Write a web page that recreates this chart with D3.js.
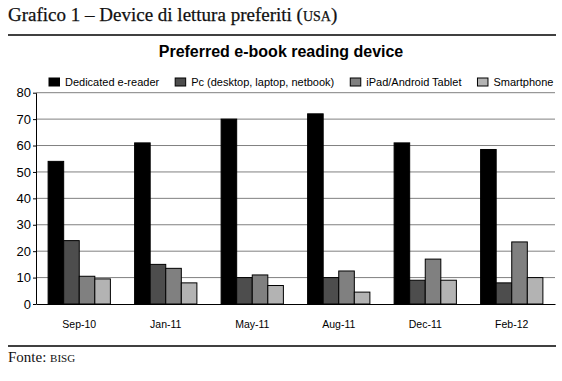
<!DOCTYPE html>
<html lang="it">
<head>
  <meta charset="UTF-8">
  <title>Grafico 1 - Device di lettura preferiti</title>
  <script src="https://d3js.org/d3.v7.min.js"></script>
  <style>
    body { margin: 0; padding: 0; background: #fff; }
    svg { display: block; }
    .sans { font-family: "Liberation Sans", Arial, sans-serif; }
    .serif { font-family: "Liberation Serif", "Times New Roman", serif; }
  </style>
</head>
<body>
  <div id="chart"></div>

  <script>
    // Data
    const categories = ["Sep-10", "Jan-11", "May-11", "Aug-11", "Dec-11", "Feb-12"];
    const seriesNames = ["Dedicated e-reader", "Pc (desktop, laptop, netbook)", "iPad/Android Tablet", "Smartphone"];
    const dedicated = [54, 61, 70, 72, 61, 58.5];
    const pc = [24, 15, 10, 10, 9, 8];
    const tablet = [10.5, 13.5, 11, 12.5, 17, 23.5];
    const smartphone = [9.5, 8, 7, 4.5, 9, 10];
    const yTicks = [0, 10, 20, 30, 40, 50, 60, 70, 80];

    const colors = ["#000000", "#4d4d4d", "#808080", "#b3b3b3"];
    const values = [dedicated, pc, tablet, smartphone];

    const width = 562, height = 381;
    const plot = { left: 36, right: 555, top: 92.7, bottom: 304 };

    const svg = d3.select("#chart")
      .append("svg")
      .attr("width", width)
      .attr("height", height);

    // Header
    const head = svg.append("text")
      .attr("class", "serif")
      .attr("x", 8)
      .attr("y", 20.5)
      .attr("font-size", 19)
      .attr("fill", "#111")
      .attr("stroke", "#111")
      .attr("stroke-width", 0.25);
    head.append("tspan").text("Grafico 1 – Device di lettura preferiti (");
    head.append("tspan").attr("font-size", 14).text("USA");
    head.append("tspan").text(")");

    svg.append("line")
      .attr("x1", 8).attr("x2", 556)
      .attr("y1", 35).attr("y2", 35)
      .attr("stroke", "#000").attr("stroke-width", 1.5);

    svg.append("text")
      .attr("class", "sans")
      .attr("x", 281)
      .attr("y", 56.5)
      .attr("text-anchor", "middle")
      .attr("font-size", 16)
      .attr("font-weight", "bold")
      .text("Preferred e-book reading device");

    // Scales
    const x0 = d3.scaleBand()
      .domain(categories)
      .range([plot.left, plot.right])
      .paddingInner(0.28)
      .paddingOuter(0.14);

    const x1 = d3.scaleBand()
      .domain(seriesNames)
      .range([0, x0.bandwidth()]);

    const y = d3.scaleLinear()
      .domain([0, 80])
      .range([plot.bottom, plot.top]);

    // Gridlines
    svg.append("g")
      .selectAll("line")
      .data(yTicks.filter(d => d > 0))
      .enter()
      .append("line")
      .attr("x1", plot.left).attr("x2", plot.right)
      .attr("y1", d => y(d)).attr("y2", d => y(d))
      .attr("stroke", "#808080")
      .attr("stroke-width", 1);

    // Bars
    const groups = svg.append("g")
      .selectAll("g")
      .data(categories)
      .enter()
      .append("g")
      .attr("transform", d => `translate(${x0(d)},0)`);

    groups.selectAll("rect")
      .data((c, i) => seriesNames.map((s, k) => ({ s, k, v: values[k][i] })))
      .enter()
      .append("rect")
      .attr("x", d => x1(d.s))
      .attr("y", d => y(d.v))
      .attr("width", x1.bandwidth())
      .attr("height", d => y(0) - y(d.v))
      .attr("fill", d => colors[d.k])
      .attr("stroke", "#000")
      .attr("stroke-width", 1);

    // Axes
    const yAxis = svg.append("g")
      .attr("class", "sans")
      .attr("transform", `translate(${plot.left},0)`)
      .call(d3.axisLeft(y).tickValues(yTicks).tickSize(3).tickSizeOuter(0).tickPadding(2));
    yAxis.selectAll("text").attr("font-size", 13).attr("fill", "#000").attr("font-family", null);
    yAxis.select(".domain").attr("stroke", "#000");

    const xAxis = svg.append("g")
      .attr("class", "sans")
      .attr("transform", `translate(0,${plot.bottom})`)
      .call(d3.axisBottom(x0).tickSize(0).tickPadding(16.5));
    xAxis.selectAll("text").attr("font-size", 10.5).attr("fill", "#000").attr("font-family", null);
    xAxis.select(".domain").attr("stroke", "#000").attr("stroke-width", 1.2);

    // Legend
    const legend = svg.append("g").attr("class", "sans");
    let lx = 49;
    seriesNames.forEach((name, k) => {
      legend.append("rect")
        .attr("x", lx).attr("y", 78)
        .attr("width", 10.5).attr("height", 8)
        .attr("fill", colors[k])
        .attr("stroke", "#000").attr("stroke-width", 1);
      const t = legend.append("text")
        .attr("x", lx + 16)
        .attr("y", 86)
        .attr("font-size", 11)
        .text(name);
      lx += 16 + t.node().getComputedTextLength() + 16;
    });

    // Footer
    svg.append("line")
      .attr("x1", 8).attr("x2", 556)
      .attr("y1", 346).attr("y2", 346)
      .attr("stroke", "#000").attr("stroke-width", 1.5);

    const foot = svg.append("text")
      .attr("class", "serif")
      .attr("x", 8)
      .attr("y", 362)
      .attr("font-size", 15)
      .attr("fill", "#111");
    foot.append("tspan").text("Fonte: ");
    foot.append("tspan").attr("font-size", 11).text("BISG");
  </script>
</body>
</html>
